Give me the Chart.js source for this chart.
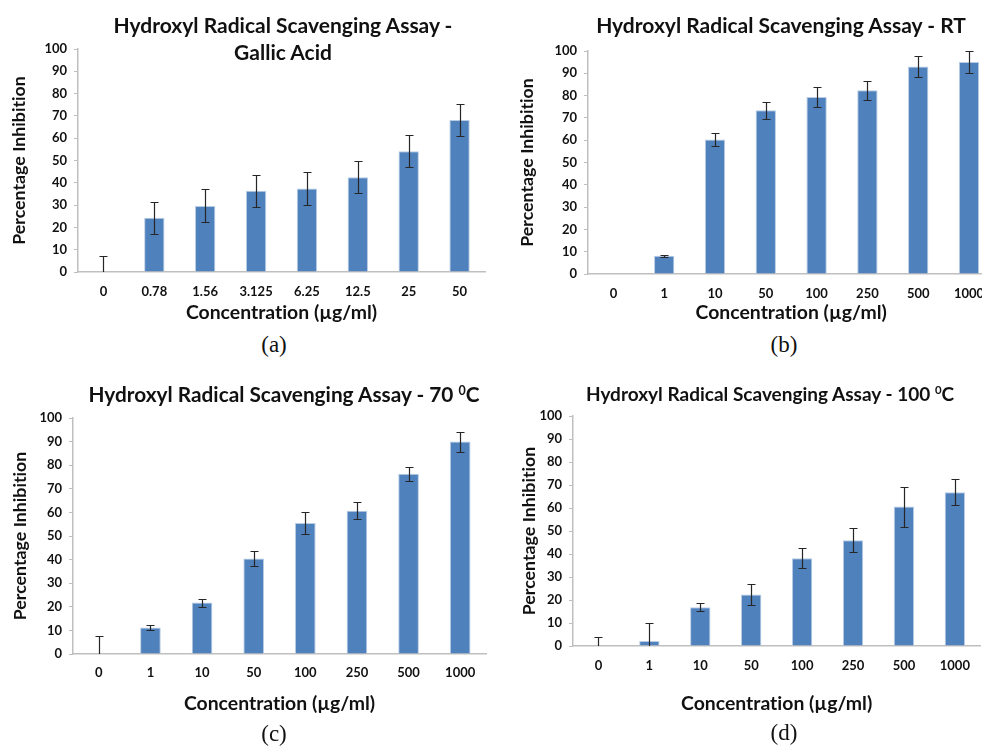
<!DOCTYPE html>
<html>
<head>
<meta charset="utf-8">
<script src="https://cdn.jsdelivr.net/npm/chart.js@4"></script>
<style>
  html, body { margin: 0; padding: 0; background: #fff; }
  body { width: 982px; height: 746px; position: relative; overflow: hidden; font-family: Lato, sans-serif; }
  canvas { position: absolute; font-variant-ligatures: none; }
  .title { position: absolute; font-weight: bold; color: #111; white-space: nowrap; transform: translateX(-50%); text-align: center; }
  .title sup { font-size: 0.6em; vertical-align: 0.6em; line-height: 0; }
  .caption { position: absolute; font-family: "Liberation Serif", serif; font-size: 23px; color: #111; transform: translateX(-50%); }
</style>
</head>
<body>
<canvas id="plot-a" width="491" height="330" style="left:0;top:0"></canvas>
<canvas id="plot-b" width="520" height="330" style="left:491px;top:0"></canvas>
<canvas id="plot-c" width="491" height="350" style="left:0;top:373px"></canvas>
<canvas id="plot-d" width="491" height="350" style="left:491px;top:373px"></canvas>

<div class="title" style="left:283px;top:11px;font-size:21px;line-height:27px">Hydroxyl Radical Scavenging Assay -<br>Gallic Acid</div>
<div class="title" style="left:781px;top:11px;font-size:21px;line-height:27px">Hydroxyl Radical Scavenging Assay - RT</div>
<div class="title" style="left:284px;top:380px;font-size:20.8px;line-height:27px">Hydroxyl Radical Scavenging Assay - 70 <sup>0</sup>C</div>
<div class="title" style="left:770px;top:380px;font-size:19px;line-height:27px">Hydroxyl Radical Scavenging Assay - 100 <sup>0</sup>C</div>

<div class="caption" style="left:274px;top:332px">(a)</div>
<div class="caption" style="left:784px;top:332px">(b)</div>
<div class="caption" style="left:274px;top:721px">(c)</div>
<div class="caption" style="left:784px;top:720px">(d)</div>

<script>
// Concentrations (µg/ml)
const gallicLabels = ['0', '0.78', '1.56', '3.125', '6.25', '12.5', '25', '50'];
const extractLabels = ['0', '1', '10', '50', '100', '250', '500', '1000'];

// Percentage inhibition and standard deviations
const gallicValues = [0, 24.3, 29.6, 36.4, 37.5, 42.5, 54.2, 68.2];
const gallicErrors = [7.2, 7.3, 7.4, 7.3, 7.4, 7.2, 7.1, 7.2];

const rtValues = [0, 8.2, 60.3, 73.4, 79.4, 82.4, 93.0, 95.1];
const rtErrors = [0, 0.4, 3.1, 3.9, 4.3, 4.3, 4.6, 4.9];

const c70Values = [0, 11.2, 21.8, 40.5, 55.5, 60.7, 76.4, 90.0];
const c70Errors = [7.5, 1.2, 1.7, 3.2, 4.8, 3.7, 3.0, 4.2];

const c100Values = [0, 2.2, 16.9, 22.4, 38.1, 46.0, 60.6, 66.9];
const c100Errors = [3.9, 7.9, 1.6, 4.5, 4.4, 5.2, 8.7, 5.6];

const yMin = 0, yMax = 100, yStep = 10;

const BAR_COLOR = '#4f81bd';
const AXIS_COLOR = '#bfbfbf';
const TEXT_COLOR = '#111111';
const FONT = 'Lato, sans-serif';

// Lato joins "ti" into a ligature; keep the letters separate on the canvas
const plainTextPlugin = {
    id: 'plainText',
    beforeDraw(chart) {
        chart.ctx.textRendering = 'optimizeSpeed';
    }
};

// Draws vertical +/- error bars with caps, clipped at the x axis
const errorBarPlugin = {
    id: 'errorBars',
    afterDatasetsDraw(chart) {
        const ctx = chart.ctx;
        const yScale = chart.scales.y;
        const area = chart.chartArea;
        chart.data.datasets.forEach((ds, i) => {
            const meta = chart.getDatasetMeta(i);
            meta.data.forEach((bar, j) => {
                const err = ds.errors[j];
                if (!err) return;
                const v = ds.data[j];
                const x = Math.round(bar.x) + 0.5;
                const yHi = Math.round(yScale.getPixelForValue(v + err)) + 0.5;
                let yLo = Math.round(yScale.getPixelForValue(v - err)) + 0.5;
                const clipped = yLo > area.bottom;
                if (clipped) yLo = area.bottom;
                const cap = 4;

                ctx.save();
                ctx.strokeStyle = '#262626';
                ctx.lineWidth = 1.2;
                ctx.beginPath();
                ctx.moveTo(x, yHi);
                ctx.lineTo(x, yLo);
                ctx.moveTo(x - cap, yHi);
                ctx.lineTo(x + cap, yHi);
                if (!clipped) {
                    ctx.moveTo(x - cap, yLo);
                    ctx.lineTo(x + cap, yLo);
                }
                ctx.stroke();
                ctx.restore();
            });
        });
    }
};

function makeChart(p) {
    const canvas = document.getElementById(p.id);
    return new Chart(canvas, {
        type: 'bar',
        data: {
            labels: p.labels,
            datasets: [{
                data: p.values,
                errors: p.errors,
                backgroundColor: BAR_COLOR,
                borderColor: '#b9cce4',
                borderWidth: 1,
                categoryPercentage: 1,
                barPercentage: 0.4,
            }]
        },
        plugins: [plainTextPlugin, errorBarPlugin],
        options: {
            responsive: false,
            animation: false,
            devicePixelRatio: 1,
            layout: { padding: { top: p.top, right: p.right, left: 0, bottom: 0 } },
            plugins: {
                legend: { display: false },
                tooltip: { enabled: false },
            },
            scales: {
                x: {
                    grid: { display: false, drawTicks: false },
                    border: { display: true, color: AXIS_COLOR, width: 1.5 },
                    ticks: {
                        color: TEXT_COLOR,
                        padding: p.xTickPad,
                        maxRotation: 0,
                        autoSkip: false,
                        font: { family: FONT, size: 13, weight: 'bold' },
                    },
                    title: {
                        display: true,
                        text: 'Concentration (µg/ml)',
                        color: TEXT_COLOR,
                        padding: { top: 0, bottom: p.xTitlePad },
                        font: { family: FONT, size: 19.4, weight: 'bold' },
                    },
                    afterFit: s => { s.height = p.xHeight; },
                },
                y: {
                    min: yMin,
                    max: yMax,
                    grid: { drawOnChartArea: false, drawTicks: true, tickLength: 4, color: AXIS_COLOR },
                    border: { display: true, color: AXIS_COLOR, width: 1.5 },
                    ticks: {
                        stepSize: yStep,
                        color: TEXT_COLOR,
                        padding: 7,
                        font: { family: FONT, size: 13, weight: 'bold' },
                    },
                    title: {
                        display: true,
                        text: 'Percentage Inhibition',
                        color: TEXT_COLOR,
                        padding: { top: p.yTitlePad, bottom: 0 },
                        font: { family: FONT, size: 17.8, weight: 'bold' },
                    },
                    afterFit: s => { s.width = p.yWidth; },
                }
            }
        }
    });
}

const panels = [
    { id: 'plot-a', labels: gallicLabels, values: gallicValues, errors: gallicErrors,
      top: 49, right: 6, yWidth: 78, xHeight: 58, xTickPad: 12, xTitlePad: 6, yTitlePad: 9 },
    { id: 'plot-b', labels: extractLabels, values: rtValues, errors: rtErrors,
      top: 51, right: 16.6, yWidth: 97, xHeight: 56, xTickPad: 12, xTitlePad: 5.5, yTitlePad: 26 },
    { id: 'plot-c', labels: extractLabels, values: c70Values, errors: c70Errors,
      top: 45, right: 5, yWidth: 73, xHeight: 69, xTickPad: 11, xTitlePad: 8, yTitlePad: 9.5 },
    { id: 'plot-d', labels: extractLabels, values: c100Values, errors: c100Errors,
      top: 43, right: 1, yWidth: 82, xHeight: 77, xTickPad: 12, xTitlePad: 7.5, yTitlePad: 27.5 },
];

panels.forEach(makeChart);
</script>
</body>
</html>
